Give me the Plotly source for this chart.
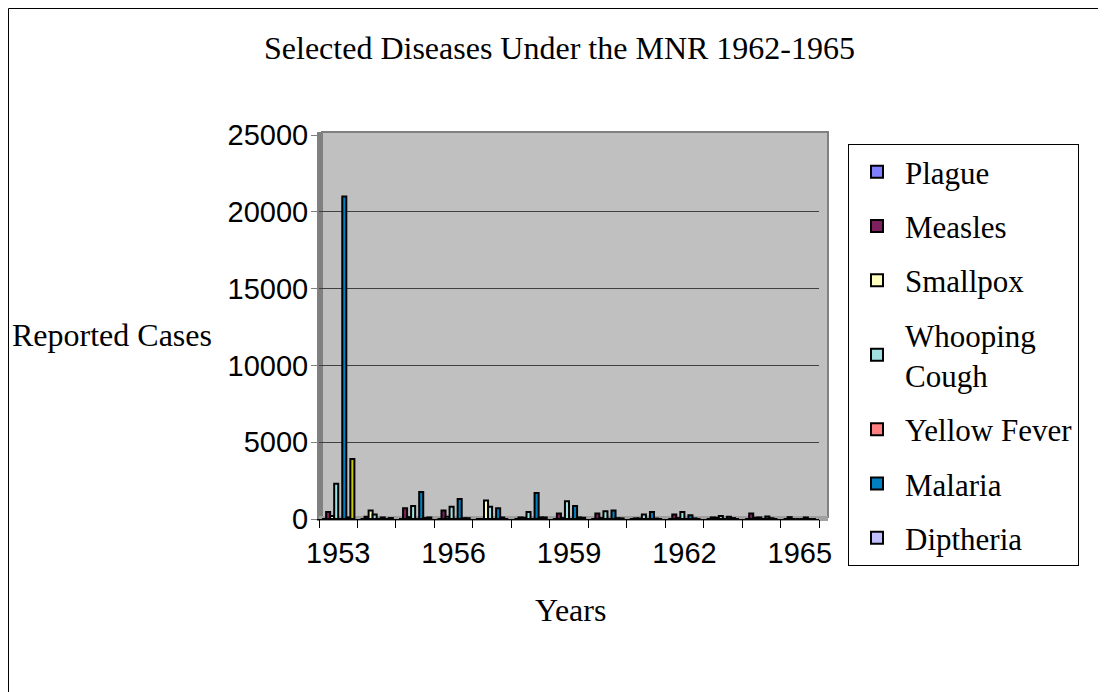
import plotly.graph_objects as go

years = [1953, 1954, 1955, 1956, 1957, 1958, 1959, 1960, 1961, 1962, 1963, 1964, 1965]
tick_years = [1953, 1956, 1959, 1962, 1965]

plague        = [0,     0,   0,    0,    0,    0,    0,    0,   0,   0,   0,   0,   0]
measles       = [450,   150, 700,  550,  0,    100,  350,  350, 40,  300, 100, 350, 120]
smallpox      = [200,   550, 120,  150,  1200, 80,   60,   60,  30,  60,  80,  80,  0]
whooping      = [2300,  300, 850,  800,  800,  450,  1150, 500, 300, 450, 200, 100, 0]
yellow_fever  = [0,     0,   0,    0,    0,    0,    0,    0,   0,   0,   0,   0,   0]
malaria       = [21000, 100, 1750, 1300, 700,  1700, 850,  550, 450, 250, 150, 170, 100]
diptheria     = [100,   0,   60,   50,   100,  100,  100,  50,  30,  40,  60,  50,  0]
unlisted      = [3900,  60,  100,  50,   0,    100,  80,   40,  0,   0,   0,   0,   0]

series = [
    ("Plague", plague, "#8080FF", True),
    ("Measles", measles, "#7F1F5F", True),
    ("Smallpox", smallpox, "#FFFFC0", True),
    ("Whooping<br>Cough", whooping, "#A0E0E0", True),
    ("Yellow Fever", yellow_fever, "#FF8080", True),
    ("Malaria", malaria, "#0080C0", True),
    ("Diptheria", diptheria, "#C0C0FF", True),
    ("Other", unlisted, "#C8C800", False),
]

# page has an 8px body margin; coordinates below are screen pixels
OFF = 8
W, H = 1098, 684
L, R, T, B = 319, 819, 135, 519   # plot area on screen


def px(x):
    return (x - L) / (R - L)


def py(y):
    return (B - y) / (B - T)


fig = go.Figure()
for i, (name, vals, color, show) in enumerate(series):
    fig.add_trace(go.Bar(
        x=years, y=vals, name=name, showlegend=show, legendgroup=f"g{i}",
        marker=dict(color=color, line=dict(color="black", width=2)),
    ))

serif = "Liberation Serif, Times New Roman, serif"
sans = "Liberation Sans, Arial, sans-serif"

shapes = [
    # outer chart frame (left and top visible)
    dict(type="line", xref="paper", yref="paper", x0=px(8.5), x1=px(8.5), y0=py(700), y1=py(8.5),
         line=dict(color="black", width=1), layer="below"),
    dict(type="line", xref="paper", yref="paper", x0=px(8.5), x1=px(1110), y0=py(8.5), y1=py(8.5),
         line=dict(color="black", width=1), layer="below"),
    # back wall
    dict(type="rect", xref="paper", yref="paper", x0=px(322), x1=px(828), y0=py(517), y1=py(132),
         line=dict(color="#808080", width=2), fillcolor="#C0C0C0", layer="below"),
    # left wall strip
    dict(type="rect", xref="paper", yref="paper", x0=px(317), x1=px(322), y0=py(521), y1=py(132),
         line=dict(width=0), fillcolor="#808080", layer="below"),
    # floor strip
    dict(type="rect", xref="paper", yref="paper", x0=px(319), x1=px(828), y0=py(521), y1=py(516),
         line=dict(width=0), fillcolor="#A0A0A0", layer="below"),
]

annotations = [
    dict(text="Selected Diseases Under the MNR 1962-1965", xref="paper", yref="paper",
         x=px(559), y=py(48), xanchor="center", yanchor="middle", showarrow=False,
         font=dict(family=serif, size=32, color="black")),
    dict(text="Reported Cases", xref="paper", yref="paper",
         x=px(10), y=py(335), xanchor="left", yanchor="middle", showarrow=False,
         font=dict(family=serif, size=32, color="black")),
    dict(text="Years", xref="paper", yref="paper",
         x=px(570), y=py(610), xanchor="center", yanchor="middle", showarrow=False,
         font=dict(family=serif, size=32, color="black")),
]

fig.update_layout(
    width=W, height=H,
    margin=dict(l=L - OFF, r=W - (R - OFF), t=T - OFF, b=H - (B - OFF), pad=0),
    paper_bgcolor="white", plot_bgcolor="#C0C0C0",
    barmode="group", bargap=0.16, bargroupgap=0,
    shapes=shapes, annotations=annotations,
    legend=dict(x=px(848), y=py(144), xanchor="left", yanchor="top",
                bordercolor="black", borderwidth=1, bgcolor="white",
                font=dict(family=serif, size=31, color="black"),
                tracegroupgap=11, traceorder="grouped", itemwidth=46,
                maxheight=640),
    xaxis=dict(range=[1952.5, 1965.5], tickmode="array", tickvals=tick_years,
               ticktext=[str(y) for y in tick_years], ticks="", showgrid=False,
               showline=True, linecolor="black", linewidth=1,
               tickfont=dict(family=sans, size=29, color="black"),
               ticklabelstandoff=8,
               minor=dict(ticks="outside", tick0=1952.5, dtick=1, ticklen=8,
                          tickcolor="black", showgrid=False),
               zeroline=False),
    yaxis=dict(range=[0, 25000], dtick=5000, tickformat="d", ticks="outside",
               ticklen=6, tickcolor="#808080", showgrid=True, gridcolor="#404040",
               gridwidth=1, showline=True, linecolor="#808080", linewidth=2,
               ticklabelstandoff=-3,
               tickfont=dict(family=sans, size=29, color="black"), zeroline=False),
    font=dict(family=serif, color="black"),
)

fig.write_html("out.html")
